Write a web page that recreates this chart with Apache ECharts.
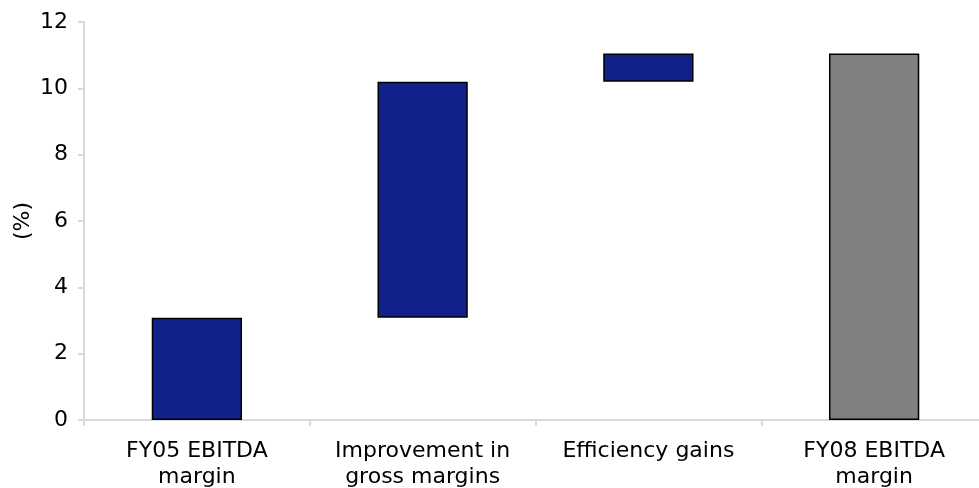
<!DOCTYPE html>
<html>
<head>
<meta charset="utf-8">
<script src="https://cdn.jsdelivr.net/npm/echarts@6/dist/echarts.min.js"></script>
<style>
  html, body { margin: 0; padding: 0; background: #fff; }
  #chart { width: 979px; height: 488px; }
</style>
</head>
<body>
<div id="chart"></div>
<script>
// EBITDA margin bridge, FY05 -> FY08 (%)
const categories = ['FY05 EBITDA\nmargin', 'Improvement in\ngross margins', 'Efficiency gains', 'FY08 EBITDA\nmargin'];
// change contributed by each step; the first and last are totals
const steps = [3.08, 7.12, 0.85, 11.05];
const isTotal = [true, false, false, true];
const yTicks = [0, 2, 4, 6, 8, 10, 12];

const stepColor = '#10218B';
const totalColor = '#808080';

// invisible base that lifts each floating step onto the running total
const base = [];
let running = 0;
steps.forEach((v, i) => {
  if (isTotal[i]) { base.push(0); running = v; }
  else { base.push(running); running += v; }
});

const font = 'DejaVu Sans, Verdana, sans-serif';
const chart = echarts.init(document.getElementById('chart'));
chart.setOption({
  animation: false,
  grid: { left: 84, width: 903, top: 22, height: 398, outerBoundsMode: 'none', containLabel: false },
  xAxis: {
    type: 'category',
    data: categories,
    axisLine: { lineStyle: { color: '#d9d9d9', width: 2 } },
    axisTick: { show: true, length: 6, lineStyle: { color: '#d9d9d9', width: 2 } },
    axisLabel: { color: '#000', fontFamily: font, fontSize: 22, lineHeight: 26, margin: 18, interval: 0 }
  },
  yAxis: {
    type: 'value',
    min: yTicks[0],
    max: yTicks[yTicks.length - 1],
    interval: 2,
    name: '(%)',
    nameLocation: 'middle',
    nameGap: 50,
    nameRotate: 90,
    nameMoveOverlap: false,
    nameTextStyle: { color: '#000', fontFamily: font, fontSize: 22 },
    axisLine: { show: true, lineStyle: { color: '#d9d9d9', width: 2 } },
    axisTick: { show: true, length: 6, lineStyle: { color: '#d9d9d9', width: 2 } },
    axisLabel: { color: '#000', fontFamily: font, fontSize: 22, margin: 16 },
    splitLine: { show: false }
  },
  series: [
    {
      type: 'bar',
      stack: 'bridge',
      data: base,
      itemStyle: { color: 'transparent' },
      silent: true,
      barWidth: '40%'
    },
    {
      type: 'bar',
      stack: 'bridge',
      barWidth: '40%',
      data: steps.map((v, i) => ({
        value: v,
        itemStyle: { color: isTotal[i] && i > 0 ? totalColor : stepColor }
      })),
      itemStyle: { borderColor: '#000', borderWidth: 1.5 }
    }
  ]
});
</script>
</body>
</html>
